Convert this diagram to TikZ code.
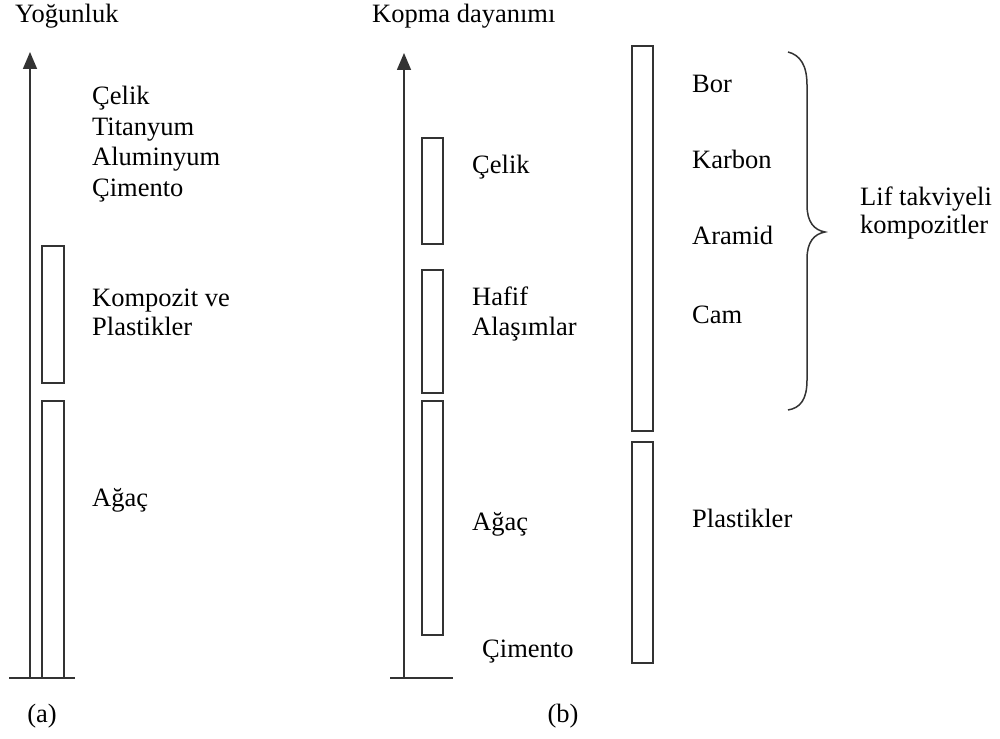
\documentclass[tikz,border=0pt]{standalone}
\usepackage{fontspec}
\setmainfont{Liberation Serif}
\usetikzlibrary{arrows.meta}
\begin{document}
\begin{tikzpicture}[x=1pt,y=-1pt,
  ln/.style={draw=black!80,line width=1.6pt},
  axis/.style={ln,-{Triangle[length=17pt,width=14pt]}},
  bar/.style={ln,rectangle,inner sep=0pt,minimum width=22pt},
  lbl/.style={anchor=base west,inner sep=0pt,font=\fontsize{26.5}{30}\selectfont},
  panelcap/.style={anchor=base,inner sep=0pt,font=\fontsize{26.5}{30}\selectfont}]
\useasboundingbox (0,0) rectangle (1000,738);

% ---------- (a) density ----------
\node[lbl] (ya) at (15,23) {Yoğunluk};
\coordinate (a0) at (30,678);
\coordinate (a1) at (30,52);
\coordinate (aL) at (9,678);
\coordinate (aR) at (75,678);
\draw[axis] (a0) -- (a1);
\draw[ln] (aL) -- (aR);
\node[bar,minimum height=137pt] (akomp) at (53,314.5) {};
\node[bar,minimum height=277pt] (aagac) at (53,539.5) {};
\node[lbl] (t1) at (92,105) {Çelik};
\node[lbl] (t2) at (92,135.5) {Titanyum};
\node[lbl] (t3) at (92,166) {Aluminyum};
\node[lbl] (t4) at (92,196.5) {Çimento};
\node[lbl] (t5) at (92,306) {Kompozit ve};
\node[lbl] (t6) at (92,335) {Plastikler};
\node[lbl] (t7) at (92,506) {Ağaç};
\node[panelcap] (capa) at (42,722) {(a)};

% ---------- (b) tensile strength ----------
\node[lbl] (yb) at (372,23) {Kopma dayanımı};
\coordinate (b0) at (404,678);
\coordinate (b1) at (404,53);
\coordinate (bL) at (390,678);
\coordinate (bR) at (453,678);
\draw[axis] (b0) -- (b1);
\draw[ln] (bL) -- (bR);
\node[bar,minimum width=21pt,minimum height=106pt] (bcelik) at (432.5,191) {};
\node[bar,minimum width=21pt,minimum height=123pt] (bhafif) at (432.5,331.5) {};
\node[bar,minimum width=21pt,minimum height=234pt] (bagac) at (432.5,518) {};
\node[bar,minimum width=21pt,minimum height=385pt] (blif) at (642.5,238.5) {};
\node[bar,minimum width=21pt,minimum height=221pt] (bplast) at (642.5,552.5) {};
\node[lbl] (s1) at (472,173) {Çelik};
\node[lbl] (s2) at (472,305) {Hafif};
\node[lbl] (s3) at (472,335) {Alaşımlar};
\node[lbl] (s4) at (472,530) {Ağaç};
\node[lbl] (s5) at (482,657) {Çimento};
\node[lbl] (r1) at (692,93) {Bor};
\node[lbl] (r2) at (692,168) {Karbon};
\node[lbl] (r3) at (692,244) {Aramid};
\node[lbl] (r4) at (692,323) {Cam};
\node[lbl] (r5) at (692,527) {Plastikler};
\node[lbl] (g1) at (860,205) {Lif takviyeli};
\node[lbl] (g2) at (860,233) {kompozitler};
\node[panelcap] (capb) at (563,722) {(b)};

% curly brace grouping the fibre types
\draw[draw=black!80,line width=1.5pt]
  (788,52) .. controls (800,55) and (807,65) .. (807,85)
  -- (807,205) .. controls (807,222) and (814,230) .. (825,232)
  .. controls (814,234) and (807,242) .. (807,259)
  -- (807,380) .. controls (807,400) and (800,408) .. (788,410);
\end{tikzpicture}
\end{document}
